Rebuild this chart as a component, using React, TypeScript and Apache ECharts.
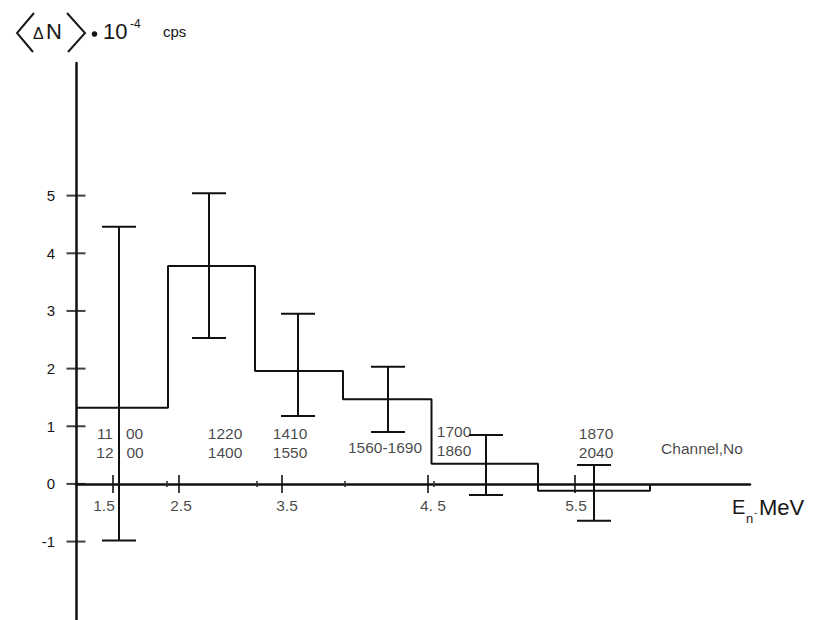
import React, { useEffect, useRef } from "react";
import * as echarts from "echarts";

// Positions along the (non-linear) energy scale, in drawing units from the y axis.
const binEdges = [0, 9.2, 17.9, 26.7, 35.55, 46.2, 57.4];
// Mean count-rate difference per channel group, in 10^-4 cps.
const binValues = [1.32, 3.78, 1.96, 1.47, 0.35, -0.12];

// Error bars: position, lower and upper limits.
const errPos = [4.3, 13.3, 22.2, 31.2, 41.0, 51.8];
const errLow = [-0.98, 2.53, 1.18, 0.9, -0.19, -0.64];
const errHigh = [4.46, 5.04, 2.95, 2.03, 0.85, 0.33];

// Energy axis ticks (MeV) and their labels.
const xTickPos = [3.7, 10.3, 20.6, 35.2, 49.9];
const xMinorTickPos = [9.1, 18.1, 26.9, 35.8];
const xLabelPos = [2.8, 10.5, 21.1, 35.7, 50.0];
const xLabels = ["1.5", "2.5", "3.5", "4. 5", "5.5"];
const xLabelY = -0.37;

// Count-rate axis ticks.
const yTickValues = [-1, 0, 1, 2, 3, 4, 5];

// Channel number ranges for each group.
const channelLabels = ["11   00\n12   00", "1220\n1400", "1410\n1550", "1560-1690", "1700\n1860", "1870\n2040", "Channel,No"];
const channelPos = [4.4, 14.9, 21.4, 30.9, 37.8, 52.0, 62.6];
const channelY = [0.71, 0.71, 0.71, 0.64, 0.745, 0.71, 0.62];

const INK = "#111";
const TEXT = "#161616";
const FONT = "Liberation Sans, Arial, sans-serif";

export default function App() {
  const ref = useRef<HTMLDivElement | null>(null);

  useEffect(() => {
    if (!ref.current) return;
    const chart = echarts.init(ref.current, undefined, { renderer: "svg" });

    // Histogram outline built from the bin edges and values.
    const stepPoints: number[][] = [];
    binValues.forEach((v, i) => {
      stepPoints.push([binEdges[i], v]);
      stepPoints.push([binEdges[i + 1], v]);
    });
    stepPoints.push([binEdges[binEdges.length - 1], 0]);

    const errData = errPos.map((x, i) => [x, errLow[i], errHigh[i]]);

    const textLabel = (size: number) => ({
      show: true,
      position: "inside",
      formatter: "{b}",
      color: TEXT,
      fontFamily: FONT,
      fontSize: size,
      lineHeight: 19,
      align: "center",
      verticalAlign: "middle",
    });

    const option: any = {
      animation: false,
      backgroundColor: "#fff",
      grid: { left: 76, right: 63, top: 63, bottom: 0, containLabel: false, outerBoundsMode: "none" },
      xAxis: {
        type: "value",
        min: 0,
        max: 67.4,
        axisLine: { show: true, onZero: true, lineStyle: { color: INK, width: 2.5 } },
        axisTick: { show: false },
        splitLine: { show: false },
        axisLabel: { show: false },
      },
      yAxis: {
        type: "value",
        min: -2.36,
        max: 7.3,
        axisLine: { show: true, onZero: true, lineStyle: { color: INK, width: 2.5 } },
        axisTick: { show: false },
        splitLine: { show: false },
        axisLabel: {
          customValues: yTickValues,
          margin: 21,
          color: TEXT,
          fontFamily: FONT,
          fontSize: 15,
        },
      },
      series: [
        {
          type: "line",
          data: stepPoints,
          symbol: "none",
          lineStyle: { color: INK, width: 2 },
          z: 3,
        },
        {
          type: "custom",
          data: errData,
          encode: { x: 0, y: [1, 2] },
          renderItem: (_params: any, api: any) => {
            const x = api.value(0);
            const lo = api.coord([x, api.value(1)]);
            const hi = api.coord([x, api.value(2)]);
            const hw = 17;
            const style = { stroke: INK, lineWidth: 2 };
            return {
              type: "group",
              children: [
                { type: "line", shape: { x1: lo[0], y1: lo[1], x2: hi[0], y2: hi[1] }, style },
                { type: "line", shape: { x1: hi[0] - hw, y1: hi[1], x2: hi[0] + hw, y2: hi[1] }, style },
                { type: "line", shape: { x1: lo[0] - hw, y1: lo[1], x2: lo[0] + hw, y2: lo[1] }, style },
              ],
            };
          },
          z: 4,
        },
        {
          // tick marks crossing the energy axis
          type: "scatter",
          data: xTickPos.map((p) => [p, 0]),
          symbol: "rect",
          symbolSize: [2, 18],
          itemStyle: { color: INK },
          silent: true,
          z: 5,
        },
        {
          type: "scatter",
          data: xMinorTickPos.map((p) => [p, 0]),
          symbol: "rect",
          symbolSize: [2, 6],
          itemStyle: { color: "#333" },
          silent: true,
          z: 5,
        },
        {
          // tick marks crossing the count-rate axis
          type: "scatter",
          data: yTickValues.map((v) => [0, v]),
          symbol: "rect",
          symbolSize: [19, 2],
          itemStyle: { color: INK },
          silent: true,
          z: 5,
        },
        {
          // energy values under the axis
          type: "scatter",
          data: xLabels.map((name, i) => ({ name, value: [xLabelPos[i], xLabelY] })),
          symbolSize: 0,
          silent: true,
          label: textLabel(15.5),
          z: 6,
        },
        {
          type: "scatter",
          data: channelLabels.map((name, i) => ({ name, value: [channelPos[i], channelY[i]] })),
          symbolSize: 0,
          silent: true,
          label: textLabel(15.5),
          z: 6,
        },
      ],
      graphic: [
        // angle brackets round ΔN
        { type: "polyline", shape: { points: [[34, 13], [17, 33], [33, 52]] }, style: { stroke: "#1a1a1a", lineWidth: 2, fill: "none" } },
        { type: "polyline", shape: { points: [[67, 13], [85, 33], [68, 52]] }, style: { stroke: "#1a1a1a", lineWidth: 2, fill: "none" } },
        { type: "text", x: 33, y: 33, style: { text: "Δ", font: `16px ${FONT}`, fill: TEXT, verticalAlign: "middle" } },
        { type: "text", x: 46, y: 31, style: { text: "N", font: `22px ${FONT}`, fill: TEXT, verticalAlign: "middle" } },
        { type: "circle", shape: { cx: 94.5, cy: 34, r: 2.8 }, style: { fill: TEXT } },
        { type: "text", x: 103, y: 31, style: { text: "10", font: `22px ${FONT}`, fill: TEXT, verticalAlign: "middle" } },
        { type: "text", x: 130, y: 24, style: { text: "-4", font: `12px ${FONT}`, fill: TEXT, verticalAlign: "middle" } },
        { type: "text", x: 163, y: 31, style: { text: "cps", font: `15px ${FONT}`, fill: TEXT, verticalAlign: "middle" } },
        // energy axis title
        { type: "text", x: 732, y: 507, style: { text: "E", font: `20px ${FONT}`, fill: TEXT, verticalAlign: "middle" } },
        { type: "text", x: 746, y: 518, style: { text: "n", font: `13px ${FONT}`, fill: TEXT, verticalAlign: "middle" } },
        { type: "text", x: 754, y: 512, style: { text: "-", font: `10px ${FONT}`, fill: "#444", verticalAlign: "middle" } },
        { type: "text", x: 759, y: 507, style: { text: "MeV", font: `22px ${FONT}`, fill: TEXT, verticalAlign: "middle" } },
      ],
    };

    chart.setOption(option);
    return () => chart.dispose();
  }, []);

  return (
    <div
      ref={ref}
      style={{ position: "fixed", left: 0, top: 0, width: 813, height: 620, background: "#fff" }}
    />
  );
}
